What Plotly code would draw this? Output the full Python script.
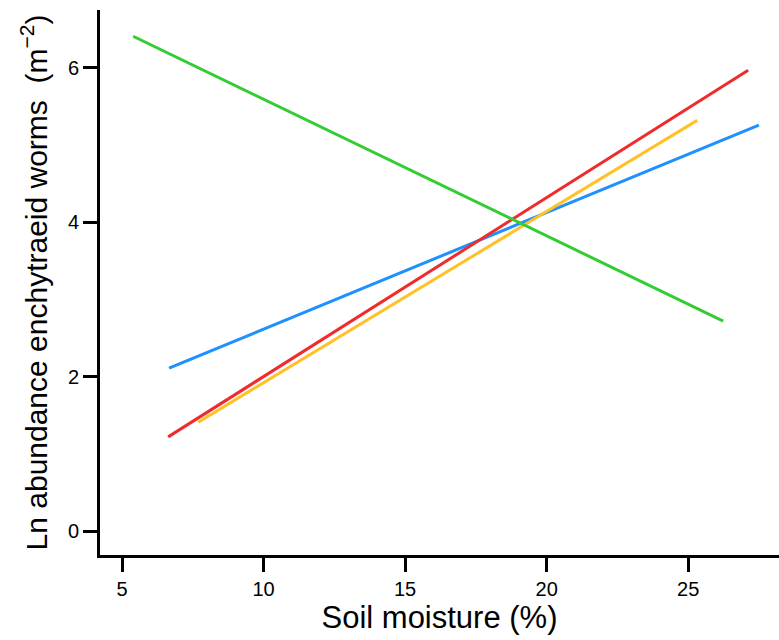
import plotly.graph_objects as go

# Series: fitted lines (start/end points) of ln abundance vs soil moisture
series_names = ["Series 1", "Series 2", "Series 3", "Series 4"]
x_blue = [6.66, 27.5]
y_blue = [2.11, 5.26]
x_red = [6.63, 27.12]
y_red = [1.22, 5.97]
x_yellow = [7.69, 25.32]
y_yellow = [1.41, 5.32]
x_green = [5.39, 26.24]
y_green = [6.41, 2.72]

x_ticks = [5, 10, 15, 20, 25]
y_ticks = [0, 2, 4, 6]

colors = ["#1E90FF", "#EE2C2C", "#FFC125", "#33CC33"]
xs = [x_blue, x_red, x_yellow, x_green]
ys = [y_blue, y_red, y_yellow, y_green]

fig = go.Figure()
for name, x, y, c in zip(series_names, xs, ys, colors):
    fig.add_trace(go.Scatter(x=x, y=y, mode="lines", name=name,
                             line=dict(color=c, width=3), showlegend=False))

font_family = "Liberation Sans, Arial, sans-serif"
fig.update_layout(
    width=779, height=640,
    margin=dict(l=100, r=0, t=10, b=85),
    paper_bgcolor="white", plot_bgcolor="white",
    font=dict(family=font_family, color="black"),
    xaxis=dict(range=[4.22, 28.21], tickvals=x_ticks, ticks="outside", ticklen=14,
               tickwidth=3, tickcolor="black", showline=True, linewidth=3,
               linecolor="black", showgrid=False, zeroline=False,
               tickfont=dict(size=20),
               title=dict(text="Soil moisture (%)", font=dict(size=31), standoff=3)),
    yaxis=dict(range=[-0.31, 6.75], tickvals=y_ticks, ticks="outside", ticklen=14,
               tickwidth=3, tickcolor="black", showline=True, linewidth=3,
               linecolor="black", showgrid=False, zeroline=False,
               tickfont=dict(size=20),
               title=dict(text="Ln abundance enchytraeid worms  (m<sup>−2</sup>)",
                          font=dict(size=30), standoff=12)),
)
fig.write_html("out.html")
